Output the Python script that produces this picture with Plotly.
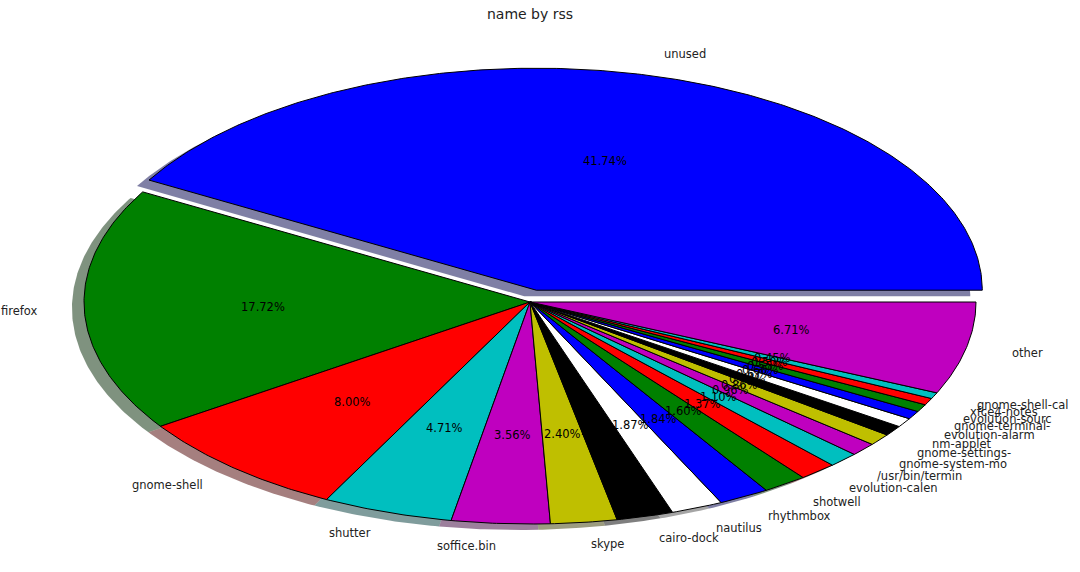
import numpy as np
import plotly.graph_objects as go

# ---- data ----
names = ["unused", "firefox", "gnome-shell", "shutter", "soffice.bin", "skype",
         "cairo-dock", "nautilus", "rhythmbox", "shotwell", "evolution-calen",
         "/usr/bin/termin", "gnome-system-mo", "gnome-settings-", "nm-applet",
         "evolution-alarm", "gnome-terminal-", "evolution-sourc", "xfce4-notes",
         "gnome-shell-cal", "other"]
percents = [41.74, 17.72, 8.00, 4.71, 3.56, 2.40,
            2.05, 1.87, 1.84, 1.60, 1.37,
            1.10, 0.96, 0.86, 0.74,
            0.67, 0.60, 0.55, 0.50,
            0.45, 6.71]
explode_names = ["unused"]
title_text = "name by rss"

# ---- style ----
color_cycle = [(0, 0, 1), (0, 0.5, 0), (1, 0, 0), (0, 0.75, 0.75),
               (0.75, 0, 0.75), (0.75, 0.75, 0), (0, 0, 0), (1, 1, 1)]
EXPLODE = 0.055
SHADOW = 0.027
W, H = 1080, 572
CX, CY, RX, RY = 530, 302, 446, 222   # pixel geometry of the pie ellipse
FONT = "DejaVu Sans"


def rgb(c, a=None):
    r, g, b = [int(round(v * 255)) for v in c]
    if a is None:
        return f"rgb({r},{g},{b})"
    return f"rgba({r},{g},{b},{a})"


total = sum(percents)
fig = go.Figure()
wedges = []
start = 0.0
for i, (nm, p) in enumerate(zip(names, percents)):
    span = 360.0 * p / total
    t1, t2 = start, start + span
    mid = np.deg2rad((t1 + t2) / 2)
    e = EXPLODE if nm in explode_names else 0.0
    ox, oy = e * np.cos(mid), e * np.sin(mid)
    n = max(4, int(span * 2))
    th = np.deg2rad(np.linspace(t1, t2, n))
    xs = np.concatenate([[0], np.cos(th), [0]]) + ox
    ys = np.concatenate([[0], np.sin(th), [0]]) + oy
    wedges.append((nm, p, xs, ys, mid, ox, oy, color_cycle[i % len(color_cycle)]))
    start = t2

# shadows first
for nm, p, xs, ys, mid, ox, oy, col in wedges:
    sc = tuple(0.3 * v for v in col)
    fig.add_trace(go.Scatter(x=xs - SHADOW, y=ys - SHADOW, mode="lines",
                             fill="toself", fillcolor=rgb(sc, 0.5),
                             line=dict(width=0), hoverinfo="skip",
                             showlegend=False))

annotations = []
for nm, p, xs, ys, mid, ox, oy, col in wedges:
    fig.add_trace(go.Scatter(x=xs, y=ys, mode="lines", fill="toself",
                             fillcolor=rgb(col), line=dict(width=1, color="black"),
                             hoverinfo="skip", showlegend=False))

for nm, p, xs, ys, mid, ox, oy, col in wedges:
    lx, ly = 1.1 * np.cos(mid) + ox, 1.1 * np.sin(mid) + oy
    annotations.append(dict(x=lx, y=ly, xref="x", yref="y", text=nm,
                            showarrow=False,
                            xanchor="left" if lx > 0 else "right",
                            yanchor="middle",
                            font=dict(family=FONT, size=11.5, color="#222")))
    px_, py_ = 0.6 * np.cos(mid) + ox, 0.6 * np.sin(mid) + oy
    annotations.append(dict(x=px_, y=py_, xref="x", yref="y",
                            text=f"{p / total * 100:.2f}%",
                            showarrow=False, xanchor="center", yanchor="middle",
                            font=dict(family=FONT, size=11.5, color="black")))

x_range = [-CX / RX, (W - CX) / RX]
y_range = [-(H - CY) / RY, CY / RY]

fig.update_layout(
    width=W, height=H, autosize=False,
    margin=dict(l=0, r=0, t=0, b=0),
    paper_bgcolor="white", plot_bgcolor="white",
    xaxis=dict(range=x_range, visible=False, fixedrange=True),
    yaxis=dict(range=y_range, visible=False, fixedrange=True),
    title=dict(text=title_text, x=530 / W, xanchor="center", y=1 - 14 / H,
               yanchor="middle", font=dict(family=FONT, size=14, color="#222")),
    annotations=annotations,
    showlegend=False,
)

fig.write_html("out.html",
               config={"displayModeBar": False},
               post_script="document.body.style.margin='0';document.body.style.padding='0';")
